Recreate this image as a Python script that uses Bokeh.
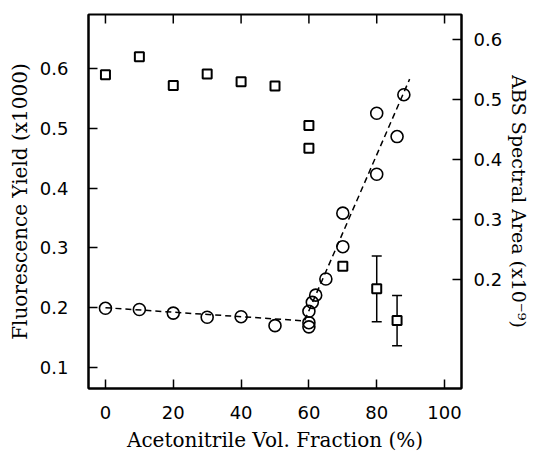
from bokeh.plotting import figure
from bokeh.models import Range1d, LinearAxis, FixedTicker, Whisker, ColumnDataSource, TeeHead
from bokeh.embed import file_html
from bokeh.resources import INLINE

# Acetonitrile volume fraction (%) for the ABS spectral area points (squares, right axis)
frac_sq = [0, 10, 20, 30, 40, 50, 60, 60, 70, 80, 86]
abs_area = [0.542, 0.572, 0.524, 0.543, 0.530, 0.523, 0.457, 0.419, 0.222, 0.184, 0.131]
# error bars on the last two squares
err_x = [80, 86]
err_mid = [0.184, 0.131]
err_half = [0.055, 0.042]

# fluorescence yield points (circles, left axis)
frac_circ = [0, 10, 20, 30, 40, 50, 60, 60, 60, 61, 62, 65, 70, 70, 80, 80, 86, 88]
fluor = [0.199, 0.197, 0.191, 0.184, 0.185, 0.170, 0.168, 0.175, 0.194, 0.209, 0.221,
         0.248, 0.302, 0.358, 0.423, 0.525, 0.486, 0.556]

# dashed guide line through the fluorescence data
fit_x = [0, 58.7, 89.7]
fit_y = [0.200, 0.178, 0.582]

x_ticks = [0, 20, 40, 60, 80, 100]
left_ticks = [0.1, 0.2, 0.3, 0.4, 0.5, 0.6]
right_ticks = [0.2, 0.3, 0.4, 0.5, 0.6]

X_LO, X_HI = -5, 105
YL_LO, YL_HI = 0.065, 0.69
YR_LO, YR_HI = 0.0175, 0.6425

TICK_FONT = "DejaVu Sans"
TITLE_FONT = "DejaVu Serif"

p = figure(width=533, height=456, output_backend="svg", toolbar_location=None,
           x_range=Range1d(X_LO, X_HI), y_range=Range1d(YL_LO, YL_HI),
           min_border_left=88, min_border_right=71, min_border_top=14, min_border_bottom=68)
p.extra_y_ranges = {"right": Range1d(YR_LO, YR_HI)}
p.xgrid.visible = False
p.ygrid.visible = False
p.outline_line_color = "black"
p.outline_line_width = 2
p.outline_line_alpha = 1.0
p.background_fill_color = "white"
p.border_fill_color = "white"


def style(ax):
    ax.major_tick_in = 9
    ax.major_tick_out = 0
    ax.minor_tick_line_color = None
    ax.major_tick_line_color = "black"
    ax.major_tick_line_width = 1.5
    ax.axis_line_color = "black"
    ax.axis_line_width = 2
    ax.major_label_text_color = "black"
    ax.major_label_text_font = TICK_FONT
    ax.major_label_text_font_size = "18px"
    ax.axis_label_text_font = TITLE_FONT
    ax.axis_label_text_font_size = "20px"
    ax.axis_label_text_font_style = "normal"
    ax.axis_label_text_color = "black"


xa = p.xaxis[0]
xa.ticker = FixedTicker(ticks=x_ticks)
style(xa)
xa.axis_label = "Acetonitrile Vol. Fraction (%)"
xa.major_label_standoff = 17
xa.axis_label_standoff = 6

ya = p.yaxis[0]
ya.ticker = FixedTicker(ticks=left_ticks)
style(ya)
ya.axis_label = "Fluorescence Yield (x1000)"
ya.major_label_standoff = 20
ya.axis_label_standoff = 5

ra = LinearAxis(y_range_name="right", ticker=FixedTicker(ticks=right_ticks))
style(ra)
ra.axis_label = "ABS Spectral Area (x10\u207b\u2079)"
ra.axis_label_text_font_size = "19px"
ra.major_label_standoff = 12
ra.axis_label_standoff = 3
p.add_layout(ra, "right")

# inward tick marks along the top edge of the frame (same positions as bottom ticks)
tick_len = 9 / 598.0
p.segment(x0=x_ticks, x1=x_ticks, y0=[YL_HI] * len(x_ticks),
          y1=[YL_HI - tick_len] * len(x_ticks), line_color="black", line_width=1.5)

# dashed guide line
p.line(fit_x, fit_y, line_color="black", line_width=1.5, line_dash="6 4")

# error bars
err_src = ColumnDataSource(data=dict(
    x=err_x,
    upper=[m + h for m, h in zip(err_mid, err_half)],
    lower=[m - h for m, h in zip(err_mid, err_half)],
))
wh = Whisker(source=err_src, base="x", upper="upper", lower="lower", y_range_name="right",
             line_color="black", line_width=1.5,
             upper_head=TeeHead(size=10, line_width=1.5, line_color="black"),
             lower_head=TeeHead(size=10, line_width=1.5, line_color="black"))
wh.level = "underlay"
p.add_layout(wh)

# circles: fluorescence yield
p.scatter(frac_circ, fluor, marker="circle", size=12, fill_color=None,
          line_color="black", line_width=1.6)

# squares: ABS spectral area
p.scatter(frac_sq, abs_area, marker="square", size=9, fill_color="white",
          line_color="black", line_width=2, y_range_name="right")

open("out.html", "w").write(file_html(p, INLINE))
